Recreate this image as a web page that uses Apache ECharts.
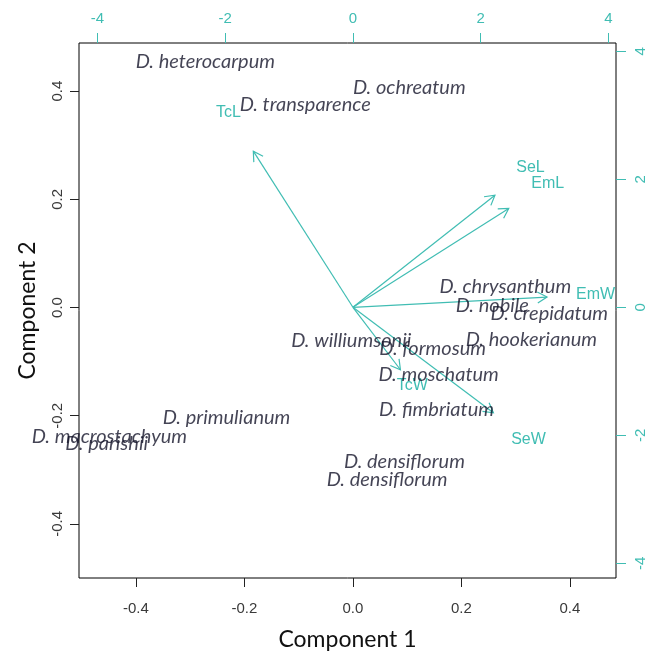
<!DOCTYPE html>
<html><head><meta charset="utf-8">
<script src="https://cdn.jsdelivr.net/npm/echarts@6/dist/echarts.min.js"></script>
<style>html,body{margin:0;padding:0;background:#fff}#c{width:658px;height:653px}</style>
</head><body><div id="c"></div>
<script>
// Species scores (Component 1, Component 2)
const species = ["D. heterocarpum","D. ochreatum","D. transparence","D. chrysanthum","D. nobile","D. crepidatum","D. hookerianum","D. williumsonii","D. formosum","D. moschatum","D. fimbriatum","D. primulianum","D. macrostachyum","D. parishii","D. densiflorum","D. densiflorum"];
const comp1 = [-0.272,0.104,-0.088,0.281,0.257,0.362,0.329,-0.003,0.147,0.158,0.154,-0.233,-0.449,-0.454,0.095,0.063];
const comp2 = [0.455,0.407,0.376,0.038,0.004,-0.011,-0.059,-0.061,-0.075,-0.123,-0.188,-0.203,-0.238,-0.251,-0.284,-0.318];
// Variable loadings (secondary axes)
const variables = ["TcL","SeL","EmL","EmW","TcW","SeW"];
const load1 = [-1.95,2.78,3.05,3.80,0.93,2.75];
const load2 = [3.05,2.19,1.93,0.20,-1.22,-2.06];
const arrowScale = 0.8;
// Tick labels
const primaryTicks = [-0.4,-0.2,0,0.2,0.4];
const secondaryTicks = [-4,-2,0,2,4];

const teal = '#40BDB3';
const chart = echarts.init(document.getElementById('c'));
const tickFont = {fontFamily:'Liberation Sans, Arial', fontSize:15, color:'#3a3a3a'};
const noLine = {show:false, onZero:false};
chart.setOption({
  animation:false,
  grid:{left:79, top:43, width:537, height:535, show:true, borderColor:'#000', borderWidth:1, backgroundColor:'transparent', containLabel:false, outerBoundsMode:'none'},
  xAxis:[
    {type:'value', position:'bottom', min:-0.505, max:0.485,
     axisLine:noLine, splitLine:{show:false},
     axisTick:{show:true, length:9, customValues:primaryTicks, lineStyle:{color:'#222'}},
     axisLabel:Object.assign({customValues:primaryTicks, margin:23, formatter:v=>v.toFixed(1)}, tickFont),
     name:'Component 1', nameLocation:'middle', nameGap:50,
     nameTextStyle:{fontFamily:'Lato', fontSize:23, color:'#111'}},
    {type:'value', position:'top', min:-4.29, max:4.12,
     axisLine:noLine, splitLine:{show:false},
     axisTick:{show:true, length:10, customValues:secondaryTicks, lineStyle:{color:teal}},
     axisLabel:Object.assign({}, tickFont, {customValues:secondaryTicks, margin:17, color:teal})}
  ],
  yAxis:[
    {type:'value', position:'left', min:-0.5, max:0.489,
     axisLine:noLine, splitLine:{show:false},
     axisTick:{show:true, length:9, customValues:primaryTicks, lineStyle:{color:'#222'}},
     axisLabel:Object.assign({customValues:primaryTicks, margin:14, rotate:90, formatter:v=>v.toFixed(1)}, tickFont),
     name:'Component 2', nameLocation:'middle', nameGap:40, nameRotate:90,
     nameTextStyle:{fontFamily:'Lato', fontSize:23, color:'#111'}},
    {type:'value', position:'right', min:-4.23, max:4.13,
     axisLine:noLine, splitLine:{show:false},
     axisTick:{show:true, length:10, customValues:secondaryTicks, lineStyle:{color:teal}},
     axisLabel:Object.assign({}, tickFont, {customValues:secondaryTicks, margin:17, rotate:90, color:teal})}
  ],
  series:[
    {type:'custom', xAxisIndex:1, yAxisIndex:1, clip:false,
     data: variables.map((n,i)=>[load1[i], load2[i], n]),
     renderItem:function(params, api){
       const x = api.value(0), y = api.value(1);
       const name = variables[params.dataIndex];
       const p0 = api.coord([0,0]);
       const p1 = api.coord([x*arrowScale, y*arrowScale]);
       const pl = api.coord([x, y]);
       const ang = Math.atan2(p1[1]-p0[1], p1[0]-p0[0]);
       const L = 11, a = Math.PI/6;
       const h1 = [p1[0]-L*Math.cos(ang-a), p1[1]-L*Math.sin(ang-a)];
       const h2 = [p1[0]-L*Math.cos(ang+a), p1[1]-L*Math.sin(ang+a)];
       const ls = {stroke:teal, lineWidth:1.2, fill:null};
       return {type:'group', children:[
         {type:'line', shape:{x1:p0[0],y1:p0[1],x2:p1[0],y2:p1[1]}, style:ls},
         {type:'polyline', shape:{points:[h1,p1,h2]}, style:ls},
         {type:'text', x:pl[0], y:pl[1], style:{text:name, align:'center', verticalAlign:'middle', fill:teal, font:'16px "Liberation Sans", Arial'}}
       ]};
     }},
    {type:'scatter', xAxisIndex:0, yAxisIndex:0, symbolSize:0, silent:true,
     data: species.map((n,i)=>({name:n, value:[comp1[i], comp2[i]]})),
     label:{show:true, position:'inside', formatter:p=>p.name, fontFamily:'Lato', fontStyle:'italic', fontSize:20, color:'#15152a'}}
  ]
});
</script></body></html>
